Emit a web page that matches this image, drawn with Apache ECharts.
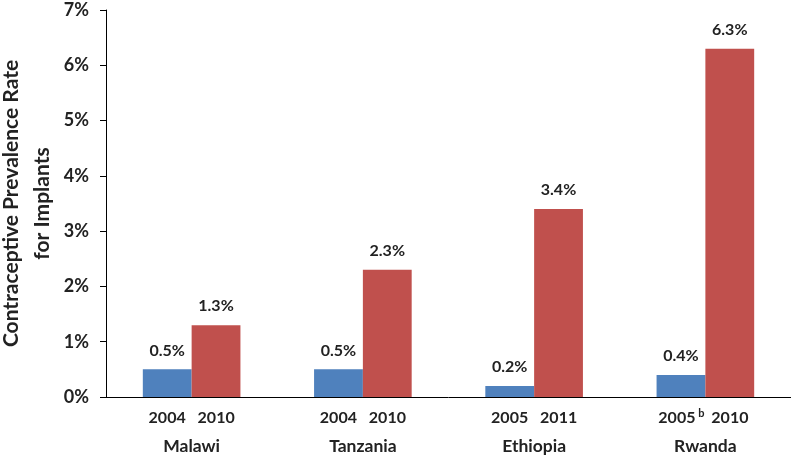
<!DOCTYPE html>
<html>
<head>
<meta charset="utf-8">
<script src="https://cdn.jsdelivr.net/npm/echarts@6/dist/echarts.min.js"></script>
<style>html,body{margin:0;padding:0;background:#fff;}#c{width:791px;height:456px;}</style>
</head>
<body>
<div id="c"></div>
<script>
const countries = ['Malawi', 'Tanzania', 'Ethiopia', 'Rwanda'];
const firstYears = ['2004', '2004', '2005', '2005'];
const firstFootnotes = ['', '', '', 'b'];
const secondYears = ['2010', '2010', '2011', '2010'];
const firstSurvey = [0.5, 0.5, 0.2, 0.4];
const secondSurvey = [1.3, 2.3, 3.4, 6.3];
const yTicks = [0, 1, 2, 3, 4, 5, 6, 7];

const FONT = 'Lato';
const TXT = '#222222';

const chart = echarts.init(document.getElementById('c'));
chart.setOption({
  animation: false,
  textStyle: { fontFamily: FONT },
  grid: { left: 106, right: 0, top: 10, bottom: 59, containLabel: false, outerBoundsMode: 'none' },
  xAxis: {
    type: 'category',
    data: countries,
    axisLine: { lineStyle: { color: '#000', width: 1 } },
    axisTick: { show: false },
    axisLabel: {
      interval: 0,
      margin: 11,
      formatter: function (v, i) {
        let line1;
        if (firstFootnotes[i]) {
          line1 = '{y1n|' + firstYears[i] + '}{sup|' + firstFootnotes[i] + '}{y2|' + secondYears[i] + '}';
        } else {
          line1 = '{y1|' + firstYears[i] + '}{y2|' + secondYears[i] + '}';
        }
        return line1 + '\n{c|' + v + '}';
      },
      rich: {
        y1: { width: 49, align: 'center', fontSize: 16, fontWeight: 'bold', color: TXT, lineHeight: 20, fontFamily: FONT },
        y1n: { width: 41, align: 'right', fontSize: 16, fontWeight: 'bold', color: TXT, lineHeight: 20, fontFamily: FONT },
        sup: { width: 8, align: 'left', fontSize: 11, fontWeight: 'bold', color: TXT, lineHeight: 11, verticalAlign: 'top', fontFamily: FONT },
        y2: { width: 49, align: 'center', fontSize: 16, fontWeight: 'bold', color: TXT, lineHeight: 20, fontFamily: FONT },
        c: { fontSize: 17.5, fontWeight: 'bold', color: TXT, lineHeight: 37, fontFamily: FONT }
      }
    }
  },
  yAxis: {
    type: 'value',
    min: yTicks[0],
    max: yTicks[yTicks.length - 1],
    interval: 1,
    name: 'Contraceptive Prevalence Rate\nfor Implants',
    nameLocation: 'middle',
    nameGap: 48,
    nameMoveOverlap: false,
    nameTextStyle: { fontSize: 21, fontWeight: 'bold', color: TXT, lineHeight: 31, fontFamily: FONT },
    axisLine: { show: true, lineStyle: { color: '#000', width: 1 } },
    axisTick: { show: true, length: 6, lineStyle: { color: '#000' } },
    splitLine: { show: false },
    axisLabel: {
      margin: 17,
      formatter: '{value}%',
      fontSize: 18,
      fontWeight: 'bold',
      color: TXT,
      fontFamily: FONT
    }
  },
  series: [
    {
      type: 'bar',
      data: firstSurvey,
      barGap: '0%',
      barCategoryGap: '43%',
      itemStyle: { color: '#4F81BD' },
      label: { show: true, position: 'top', distance: 11, formatter: p => p.value.toFixed(1) + '%', fontSize: 16, fontWeight: 'bold', color: TXT, fontFamily: FONT }
    },
    {
      type: 'bar',
      data: secondSurvey,
      barGap: '0%',
      barCategoryGap: '43%',
      itemStyle: { color: '#C0504D' },
      label: { show: true, position: 'top', distance: 11, formatter: p => p.value.toFixed(1) + '%', fontSize: 16, fontWeight: 'bold', color: TXT, fontFamily: FONT }
    }
  ]
});
</script>
</body>
</html>
